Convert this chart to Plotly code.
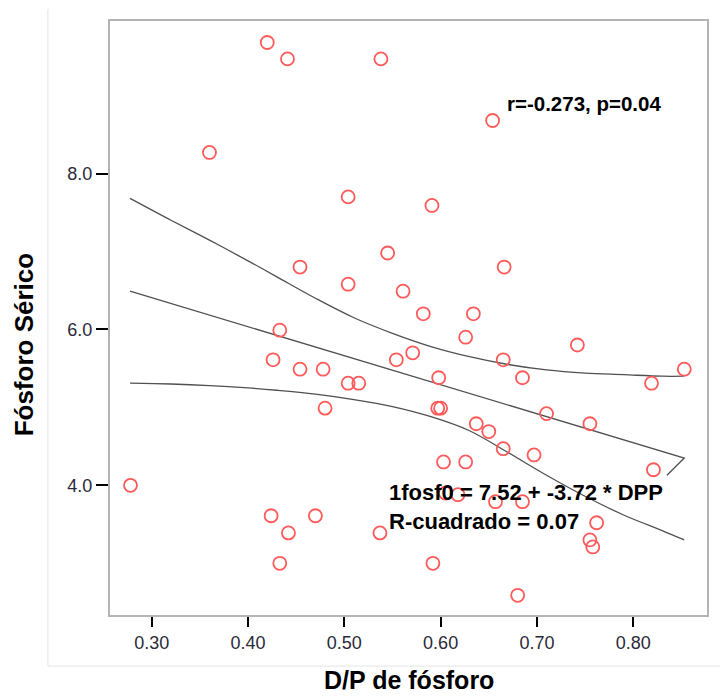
import plotly.graph_objects as go

# ---- data ----
dpp = [0.420, 0.441, 0.538, 0.654, 0.360, 0.504, 0.591, 0.545, 0.454, 0.504,
       0.561, 0.666, 0.582, 0.634, 0.433, 0.626, 0.742, 0.571, 0.426, 0.554,
       0.665, 0.454, 0.478, 0.853, 0.504, 0.515, 0.598, 0.685, 0.819, 0.480,
       0.597, 0.600, 0.710, 0.637, 0.755, 0.650, 0.665, 0.697, 0.603, 0.626,
       0.821, 0.278, 0.605, 0.618, 0.657, 0.685, 0.762, 0.755, 0.758, 0.537,
       0.592, 0.680, 0.424, 0.442, 0.433, 0.470]
fosforo = [9.68, 9.47, 9.47, 8.68, 8.27, 7.70, 7.59, 6.98, 6.80, 6.58,
           6.49, 6.80, 6.20, 6.20, 5.99, 5.90, 5.80, 5.70, 5.61, 5.61,
           5.61, 5.49, 5.49, 5.49, 5.31, 5.31, 5.38, 5.38, 5.31, 4.99,
           4.99, 4.99, 4.92, 4.79, 4.79, 4.69, 4.47, 4.39, 4.30, 4.30,
           4.20, 4.00, 3.90, 3.88, 3.79, 3.79, 3.52, 3.30, 3.21, 3.39,
           3.00, 2.59, 3.61, 3.39, 3.00, 3.61]

# fitted line (with its small drawing tail) and confidence band
fit_x = [0.2775, 0.853, 0.835]
fit_y = [6.49, 4.35, 4.13]
band_x = [0.2775, 0.32, 0.36, 0.40, 0.43, 0.47, 0.51, 0.55, 0.59, 0.63,
          0.67, 0.71, 0.75, 0.79, 0.83, 0.853]
band_upper = [7.68, 7.40, 7.145, 6.88, 6.674, 6.40, 6.15, 5.95, 5.78, 5.65,
              5.55, 5.48, 5.44, 5.42, 5.40, 5.40]
band_lower = [5.31, 5.30, 5.28, 5.25, 5.22, 5.17, 5.10, 5.01, 4.88, 4.70,
              4.42, 4.13, 3.86, 3.62, 3.42, 3.30]

x_ticks = [0.3, 0.4, 0.5, 0.6, 0.7, 0.8]
x_tick_labels = ["0.30", "0.40", "0.50", "0.60", "0.70", "0.80"]
y_ticks = [4, 6, 8]
y_tick_labels = ["4.0", "6.0", "8.0"]

x_title = "D/P de fósforo"
y_title = "Fósforo Sérico"
stat_text = "r=-0.273, p=0.04"
eq_text = "1fosf0 = 7.52 + -3.72 * DPP"
r2_text = "R-cuadrado = 0.07"

FONT = "Liberation Sans, Arial, Helvetica, sans-serif"
line_style = dict(color="#505050", width=1.3)

fig = go.Figure()
fig.add_trace(go.Scatter(x=band_x, y=band_upper, mode="lines", line=line_style,
                         line_shape="spline", hoverinfo="skip", showlegend=False))
fig.add_trace(go.Scatter(x=band_x, y=band_lower, mode="lines", line=line_style,
                         line_shape="spline", hoverinfo="skip", showlegend=False))
fig.add_trace(go.Scatter(x=fit_x, y=fit_y, mode="lines", line=line_style,
                         hoverinfo="skip", showlegend=False))
fig.add_trace(go.Scatter(
    x=dpp, y=fosforo, mode="markers",
    marker=dict(symbol="circle-open", size=13, color="#ff5a5a",
                line=dict(width=1.8, color="#ff5a5a")),
    showlegend=False))

fig.update_xaxes(range=[0.2567, 0.8766], tickvals=x_ticks, ticktext=x_tick_labels,
                 ticks="outside", ticklen=10, tickwidth=2, tickcolor="black",
                 showline=True, linecolor="#b4b4b4", linewidth=2, mirror=True,
                 showgrid=False, zeroline=False,
                 tickfont=dict(family=FONT, size=18, color="#2a2a3a"))
fig.update_yaxes(range=[2.337, 9.956], tickvals=y_ticks, ticktext=y_tick_labels,
                 ticks="outside", ticklen=12, tickwidth=2, tickcolor="black",
                 showline=True, linecolor="#b4b4b4", linewidth=2, mirror=True,
                 showgrid=False, zeroline=False,
                 tickfont=dict(family=FONT, size=18, color="#2a2a3a"))

annotations = [
    dict(x=0.667, y=8.90, xref="x", yref="y", text=stat_text, showarrow=False,
         xanchor="left", yanchor="middle",
         font=dict(family=FONT, size=20.5, color="black", weight="bold")),
    dict(x=0.5443, y=3.914, xref="x", yref="y", text=eq_text, showarrow=False,
         xanchor="left", yanchor="middle",
         font=dict(family=FONT, size=22, color="black", weight="bold")),
    dict(x=0.5443, y=3.53, xref="x", yref="y", text=r2_text, showarrow=False,
         xanchor="left", yanchor="middle",
         font=dict(family=FONT, size=22, color="black", weight="bold")),
    dict(x=0.5, y=-0.109, xref="paper", yref="paper", text=x_title, showarrow=False,
         xanchor="center", yanchor="middle",
         font=dict(family=FONT, size=25, color="black", weight="bold")),
    dict(x=-0.144, y=0.454, xref="paper", yref="paper", text=y_title, showarrow=False,
         textangle=-90, xanchor="center", yanchor="middle",
         font=dict(family=FONT, size=26, color="black", weight="bold")),
]

shapes = [
    dict(type="line", xref="paper", yref="paper", x0=-0.104, x1=-0.104, y0=1.02, y1=-0.086,
         line=dict(color="#e4e4e4", width=1)),
    dict(type="line", xref="paper", yref="paper", x0=-0.104, x1=1.03, y0=-0.086, y1=-0.086,
         line=dict(color="#e4e4e4", width=1)),
]

fig.update_layout(width=720, height=698, margin=dict(l=110, r=13, t=21, b=83),
                  plot_bgcolor="white", paper_bgcolor="white",
                  annotations=annotations, shapes=shapes)

fig.write_html("out.html", config={"displayModeBar": False},
               post_script="document.body.style.margin='0px';")
